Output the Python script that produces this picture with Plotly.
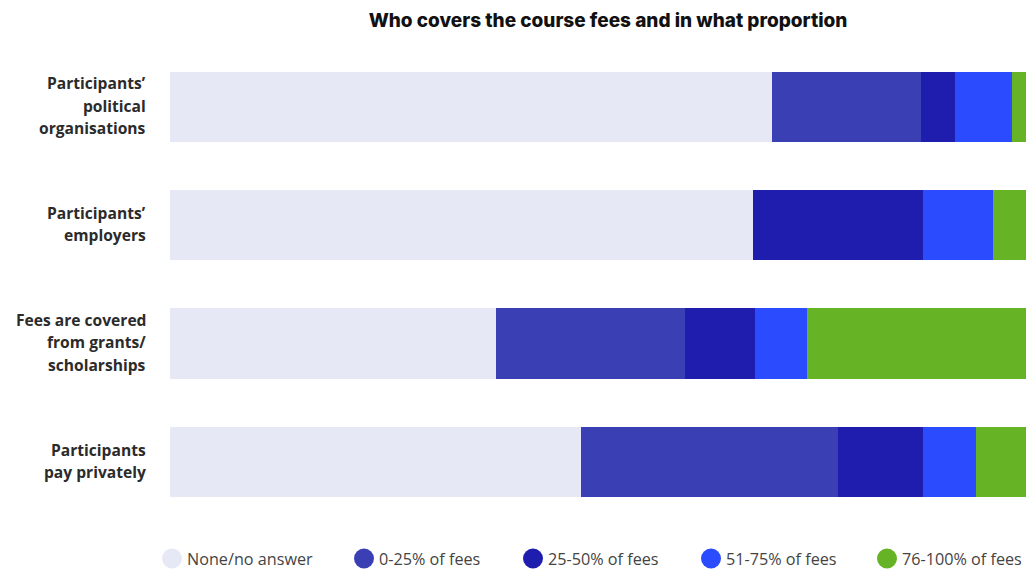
import plotly.graph_objects as go

# Funding sources (top to bottom)
categories = [
    "Participants’<br>political<br>organisations",
    "Participants’<br>employers",
    "Fees are covered<br>from grants/<br>scholarships",
    "Participants<br>pay privately",
]

# Share of respondents (%) per fee-coverage band
series_names = ["None/no answer", "0-25% of fees", "25-50% of fees", "51-75% of fees", "76-100% of fees"]
none_answer = [70.3, 68.1, 38.1, 48.0]
fees_0_25 = [17.4, 0.0, 22.1, 30.0]
fees_25_50 = [4.0, 19.9, 8.1, 10.0]
fees_51_75 = [6.7, 8.1, 6.1, 6.1]
fees_76_100 = [1.6, 3.9, 25.6, 5.9]

colors = ["#E6E8F5", "#3B3FB4", "#1F1DAE", "#2B4BFF", "#67B326"]
series_values = [none_answer, fees_0_25, fees_25_50, fees_51_75, fees_76_100]

W, H = 1026, 571

fig = go.Figure()
for name, vals, col in zip(series_names, series_values, colors):
    fig.add_trace(go.Bar(
        y=categories, x=vals, name=name, orientation="h",
        marker=dict(color=col, line=dict(width=0)),
        showlegend=False, hoverinfo="skip",
    ))

annotations = []

# Category labels, one annotation per line for wider line spacing
line_gap = 22.5
for cat in categories:
    lines = cat.split("<br>")
    n = len(lines)
    for i, line in enumerate(lines):
        annotations.append(dict(
            text=f"<b>{line}</b>", xref="paper", yref="y",
            x=148 / W, y=cat, xanchor="right", yanchor="middle",
            yshift=-(i - (n - 1) / 2) * line_gap + 1,
            showarrow=False,
            font=dict(family="Open Sans", size=15.6, color="#2b2b2b"),
        ))

# Custom legend: circles with labels along the bottom
legend_circle_x = [172, 364, 533, 711, 887]
legend_y = 558.5
r = 10
shapes = []
for name, col, cx in zip(series_names, colors, legend_circle_x):
    shapes.append(dict(
        type="circle", xref="paper", yref="paper",
        x0=(cx - r) / W, x1=(cx + r) / W,
        y0=1 - (legend_y + r) / H, y1=1 - (legend_y - r) / H,
        fillcolor=col, line=dict(width=0),
    ))
    annotations.append(dict(
        text=name, xref="paper", yref="paper",
        x=(cx + 13) / W, y=1 - legend_y / H,
        xanchor="left", yanchor="middle", showarrow=False,
        font=dict(family="Open Sans", size=16.2, color="#444444"),
    ))

fig.update_layout(
    width=W, height=H,
    margin=dict(l=0, r=0, t=0, b=0),
    paper_bgcolor="white", plot_bgcolor="white",
    barmode="stack", bargap=0.408,
    title=dict(
        text="Who covers the course fees and in what proportion",
        x=608 / W, xanchor="center", y=1 - 20 / H, yanchor="middle",
        font=dict(family="Inter", size=19, color="#111111", weight=800),
    ),
    xaxis=dict(
        domain=[170 / W, 1], range=[0, 100],
        showgrid=False, zeroline=False, showticklabels=False, showline=False,
    ),
    yaxis=dict(
        domain=[50 / H, 1 - 47.6 / H],
        autorange="reversed", showgrid=False, zeroline=False, showline=False,
        showticklabels=False,
    ),
    shapes=shapes, annotations=annotations,
    showlegend=False,
)

fig.write_html("out.html")
